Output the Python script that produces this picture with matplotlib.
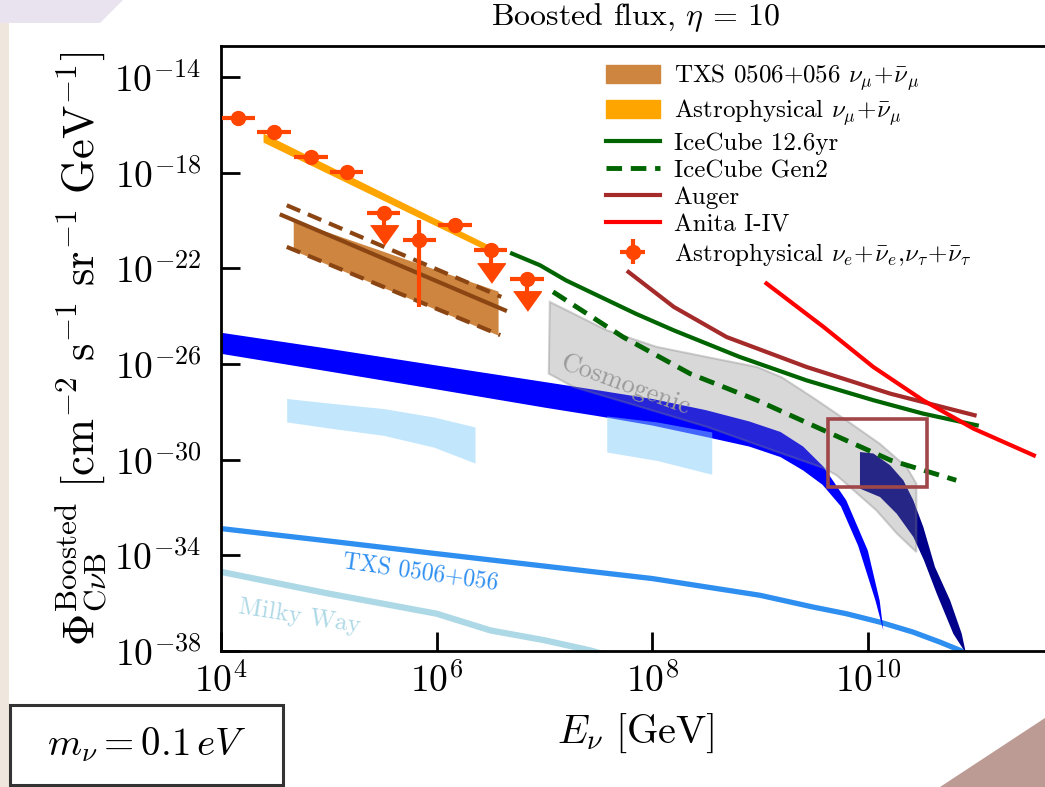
import matplotlib.pyplot as plt
import numpy as np
from matplotlib.patches import Rectangle, Polygon, Patch
from matplotlib.lines import Line2D

plt.rcParams['font.family'] = 'serif'
plt.rcParams['font.serif'] = ['cmr10', 'DejaVu Serif']
plt.rcParams['mathtext.fontset'] = 'cm'
plt.rcParams['axes.formatter.use_mathtext'] = True

# all values are log10(E/GeV) and log10(flux)

# Astrophysical nu_e + nu_tau points
ast_logE = [4.16, 4.49, 4.835, 5.166, 5.51, 5.84, 6.17, 6.50, 6.84]
ast_logE_lo = [4.006, 4.335, 4.68, 5.01, 5.355, 5.685, 6.015, 6.345, 6.685]
ast_logE_hi = [4.315, 4.645, 4.99, 5.32, 5.665, 5.995, 6.325, 6.655, 6.995]
ast_logF = [-15.73, -16.29, -17.33, -17.96, -19.70, -20.82, -20.19, -21.24, -22.44]
ast_logF_lo = [-15.73, -16.29, -17.33, -17.96, -19.70, -23.61, -20.19, -21.24, -22.44]
ast_logF_hi = [-15.73, -16.29, -17.33, -17.96, -19.70, -19.98, -20.19, -21.24, -22.44]
ast_upper = [False, False, False, False, True, False, False, True, True]
ast_arrow = [None, None, None, None, -20.61, None, None, -22.21, -23.37]

# Astrophysical nu_mu band
amu_logE = [4.39, 6.52]
amu_top = [-16.34, -21.10]
amu_bot = [-16.72, -21.37]

# TXS 0506+056 nu_mu band
txsb_fill_logE = [4.67, 6.57]
txsb_fill_top = [-19.98, -22.95]
txsb_fill_bot = [-21.24, -24.79]
txsb_up_logE = [4.61, 6.60]
txsb_up = [-19.36, -23.19]
txsb_mid_logE = [4.563, 6.634]
txsb_mid = [-19.77, -23.75]
txsb_lo_logE = [4.61, 6.59]
txsb_lo = [-21.10, -24.79]

# IceCube 12.6yr
ic_logE = [6.70, 6.96, 7.2, 7.52, 7.85, 8.20, 8.81, 9.43, 10.05, 10.51, 11.01]
ic_logF = [-21.38, -21.87, -22.5, -23.19, -23.9, -24.59, -25.70, -26.68, -27.51, -28.07, -28.56]

# IceCube Gen2
g2_logE = [7.08, 7.73, 8.35, 8.97, 9.59, 10.21, 10.82]
g2_logF = [-22.98, -24.87, -26.40, -27.51, -28.77, -30.02, -30.86]

# Auger
au_logE = [7.78, 8.20, 8.69, 9.43, 10.21, 10.99]
au_logF = [-22.15, -23.61, -24.87, -26.12, -27.24, -28.14]

# Anita I-IV
an_logE = [9.06, 9.59, 10.05, 10.51, 10.98, 11.54]
an_logF = [-22.63, -24.45, -26.12, -27.51, -28.70, -29.82]

# boosted CnuB from TXS 0506+056 and Milky Way
txs_logE = [4.0, 5.0, 6.0, 7.0, 8.0, 9.0, 9.49, 9.80, 10.11, 10.42, 10.67, 10.86, 10.92]
txs_logF = [-32.88, -33.40, -33.93, -34.45, -34.97, -35.67, -36.16, -36.44, -36.79, -37.21, -37.63, -37.98, -38.2]
mw_logE = [4.0, 5.0, 6.0, 6.5, 7.0, 7.42, 7.6]
mw_logF = [-34.69, -35.6, -36.44, -37.14, -37.55, -37.97, -38.2]

# boosted CnuB band (blue)
cnb_up_logE = [4.0, 5.0, 6.0, 7.0, 7.5, 8.0, 8.5, 8.9, 9.19, 9.4, 9.59, 9.8, 10.0, 10.11, 10.144]
cnb_up = [-24.69, -25.36, -26.06, -26.75, -27.1, -27.46, -27.93, -28.4, -28.84, -29.45, -30.3, -31.7, -33.8, -35.9, -37.14]
cnb_lo_logE = [4.0, 5.0, 6.0, 7.0, 7.5, 8.0, 8.5, 8.9, 9.19, 9.40, 9.58, 9.75, 9.91, 10.07, 10.144]
cnb_lo = [-25.57, -26.31, -27.06, -27.82, -28.18, -28.57, -29.05, -29.45, -29.89, -30.45, -31.05, -31.95, -33.6, -35.88, -37.14]

# dark band
dk_up_logE = [9.927, 10.051, 10.206, 10.329, 10.422, 10.515, 10.623, 10.763, 10.871, 10.91]
dk_up = [-29.68, -29.74, -30.23, -30.86, -31.70, -32.82, -34.49, -35.88, -37.28, -38.1]
dk_lo_logE = [9.927, 10.113, 10.268, 10.422, 10.52, 10.639, 10.793, 10.91]
dk_lo = [-31.21, -31.56, -32.26, -33.23, -34.2, -35.6, -37.28, -38.1]

# light blue patches
lb1_logE = [4.609, 5.042, 5.506, 5.970, 6.356]
lb1_top = [-27.44, -27.65, -27.86, -28.21, -28.63]
lb1_bot = [-28.42, -28.70, -28.98, -29.47, -30.14]
lb2_logE = [7.578, 8.042, 8.552]
lb2_top = [-28.17, -28.42, -28.84]
lb2_bot = [-29.68, -30.03, -30.61]

# Cosmogenic region
cos_up_logE = [7.05, 7.58, 8.04, 8.50, 8.97, 9.2, 9.49, 9.80, 10.11, 10.36, 10.45]
cos_up = [-23.40, -24.59, -25.28, -25.70, -26.12, -26.55, -27.40, -28.35, -29.33, -30.31, -31.0]
cos_lo_logE = [7.04, 7.27, 7.89, 8.51, 9.12, 9.59, 9.71, 10.08, 10.27, 10.45]
cos_lo = [-26.40, -26.96, -27.79, -28.63, -29.61, -30.35, -30.65, -32.12, -33.09, -33.86]

# highlighted box
box_logE = [9.634, 10.55]
box_logF = [-31.14, -28.28]


def p(v):
    return 10.0 ** np.asarray(v, dtype=float)


def band(logE_up, up, logE_lo, lo):
    xs = np.concatenate([p(logE_up), p(logE_lo)[::-1]])
    ys = np.concatenate([p(up), p(lo)[::-1]])
    return np.column_stack([xs, ys])


fig = plt.figure(figsize=(10.45, 7.87), dpi=100)

# slide decorations
W, H = 1045.0, 787.0
fig.add_artist(Rectangle((0, 0), 9 / W, 1, transform=fig.transFigure, color='#efe7dd', lw=0))
fig.add_artist(Polygon([(0, 1), (123 / W, 1), (100 / W, 1 - 23 / H), (0, 1 - 23 / H)],
                       transform=fig.transFigure, color='#e9e2ef', lw=0))
fig.add_artist(Polygon([(940 / W, 0), (1, 69 / H), (1, 0)], transform=fig.transFigure,
                       color='#bc9b95', lw=0))
fig.add_artist(Rectangle((10 / W, 2 / H), 273 / W, 80 / H, transform=fig.transFigure,
                         fill=False, edgecolor='#333333', lw=2.2))
fig.text(147 / W, 1 - 745 / H, r'$m_\nu = 0.1\,eV$', ha='center', va='center', fontsize=28)

ax = fig.add_axes([221 / W, 1 - 651 / H, 830 / W, 605 / H])
ax.set_xscale('log')
ax.set_yscale('log')

ax.plot(p(mw_logE), p(mw_logF), color='#add8e6', lw=4.5, zorder=1)
ax.plot(p(txs_logE), p(txs_logF), color='#2f8ff0', lw=3.8, zorder=1)

ax.add_patch(Polygon(band(cnb_up_logE, cnb_up, cnb_lo_logE, cnb_lo), closed=True,
                     facecolor='#0000ff', edgecolor='none', zorder=2))
ax.add_patch(Polygon(band(dk_up_logE, dk_up, dk_lo_logE, dk_lo), closed=True,
                     facecolor='#00008b', edgecolor='none', zorder=2))
ax.fill_between(p(lb1_logE), p(lb1_top), p(lb1_bot), color='lightskyblue', alpha=0.5, lw=0, zorder=3)
ax.fill_between(p(lb2_logE), p(lb2_top), p(lb2_bot), color='lightskyblue', alpha=0.5, lw=0, zorder=3)
ax.add_patch(Polygon(band(cos_up_logE, cos_up, cos_lo_logE, cos_lo), closed=True,
                     facecolor=(0.5, 0.5, 0.5, 0.3), edgecolor=(0.5, 0.5, 0.5, 0.35), lw=1.5, zorder=4))
ax.text(p(7.75), p(-26.89), 'Cosmogenic', color='#9a9a9a', fontsize=19, rotation=-20,
        rotation_mode='anchor', ha='center', va='center', zorder=4)
ax.text(p(5.855), p(-34.70), 'TXS 0506+056', color='#2f8ff0', fontsize=17, rotation=-8,
        rotation_mode='anchor', ha='center', va='center', zorder=4)
ax.text(p(4.73), p(-36.55), 'Milky Way', color='#add8e6', fontsize=18, rotation=-9,
        rotation_mode='anchor', ha='center', va='center', zorder=4)

# TXS nu_mu band
ax.fill_between(p(txsb_fill_logE), p(txsb_fill_top), p(txsb_fill_bot), color='#cd853f', lw=0, zorder=5)
ax.plot(p(txsb_up_logE), p(txsb_up), color='#8b4513', lw=3, ls=(0, (3.5, 2)), zorder=5)
ax.plot(p(txsb_mid_logE), p(txsb_mid), color='#8b4513', lw=3, zorder=5)
ax.plot(p(txsb_lo_logE), p(txsb_lo), color='#8b4513', lw=3, ls=(0, (3.5, 2)), zorder=5)

# Astrophysical nu_mu band
ax.fill_between(p(amu_logE), p(amu_top), p(amu_bot), color='#ffa500', lw=0, zorder=5)

# experiments
ax.plot(p(ic_logE), p(ic_logF), color='#006400', lw=3, zorder=6)
ax.plot(p(g2_logE), p(g2_logF), color='#006400', lw=3.5, ls=(0, (3.2, 1.8)), zorder=6)
ax.plot(p(au_logE), p(au_logF), color='#a52a2a', lw=3, zorder=6)
ax.plot(p(an_logE), p(an_logF), color='#ff0000', lw=3, zorder=6)

# data points
ast_logE = np.array(ast_logE)
ast_upper = np.array(ast_upper)
x = p(ast_logE)
y = p(ast_logF)
xerr = np.vstack([x - p(ast_logE_lo), p(ast_logE_hi) - x])
yerr = np.vstack([y - p(ast_logF_lo), p(ast_logF_hi) - y])
det = ~ast_upper
eb = ax.errorbar(x[det], y[det], xerr=xerr[:, det], yerr=yerr[:, det], fmt='o',
                 color='#ff4500', ms=10, elinewidth=3, capsize=0, zorder=7)
ax.errorbar(x[ast_upper], y[ast_upper], xerr=xerr[:, ast_upper], fmt='o',
            color='#ff4500', ms=10, elinewidth=3, capsize=0, zorder=7)
arrow_y = p([a for a in ast_arrow if a is not None])
ax.vlines(x[ast_upper], arrow_y, y[ast_upper], color='#ff4500', lw=3, zorder=7)
ax.plot(x[ast_upper], arrow_y, ls='none', marker=[(-1, 0.7), (1, 0.7), (0, -0.7)],
        ms=20, color='#ff4500', zorder=7)

ax.add_patch(Rectangle((p(box_logE[0]), p(box_logF[0])), p(box_logE[1]) - p(box_logE[0]),
                       p(box_logF[1]) - p(box_logF[0]), fill=False, edgecolor='#a0474a',
                       lw=2.6, zorder=8))

ax.set_xlim(1e4, 5e11)
ax.set_ylim(1e-38, 2e-13)
ax.set_xticks([1e4, 1e6, 1e8, 1e10])
ax.set_yticks([1e-14, 1e-18, 1e-22, 1e-26, 1e-30, 1e-34, 1e-38])
ax.minorticks_off()
ax.tick_params(direction='in', length=14, width=2, labelsize=27, top=False, right=False)
ax.tick_params(axis='y', pad=14)
ax.tick_params(axis='x', pad=8)
for s in ax.spines.values():
    s.set_linewidth(2)

ax.set_xlabel(r'$E_\nu\ [\mathrm{GeV}]$', fontsize=29, labelpad=9)
ax.set_ylabel(r'$\Phi^{\mathrm{Boosted}}_{\mathrm{C}\nu\mathrm{B}}\ [\mathrm{cm}^{-2}\ \mathrm{s}^{-1}\ '
              r'\mathrm{sr}^{-1}\ \mathrm{GeV}^{-1}]$', fontsize=32, labelpad=4)
fig.text(636 / W, 1 - 18 / H, r'Boosted flux, $\eta$ = 10', ha='center', va='center', fontsize=23)

handles = [
    Patch(color='#cd853f'),
    Patch(color='#ffa500'),
    Line2D([], [], color='#006400', lw=3),
    Line2D([], [], color='#006400', lw=3.5, ls=(0, (3.2, 1.8))),
    Line2D([], [], color='#a52a2a', lw=3),
    Line2D([], [], color='#ff0000', lw=3),
    eb,
]
labels = [
    r'TXS 0506+056 $\nu_\mu\!+\!\bar{\nu}_\mu$',
    r'Astrophysical $\nu_\mu\!+\!\bar{\nu}_\mu$',
    'IceCube 12.6yr',
    'IceCube Gen2',
    'Auger',
    'Anita I-IV',
    r'Astrophysical $\nu_e\!+\!\bar{\nu}_e,\!\nu_\tau\!+\!\bar{\nu}_\tau$',
]
fig.legend(handles, labels, loc='upper left', bbox_to_anchor=(606 / W, 1 - 62 / H),
           frameon=False, fontsize=18, handlelength=2.15, handletextpad=0.55,
           labelspacing=0.18, borderpad=0, borderaxespad=0)

fig.savefig('out.png', dpi=100)
